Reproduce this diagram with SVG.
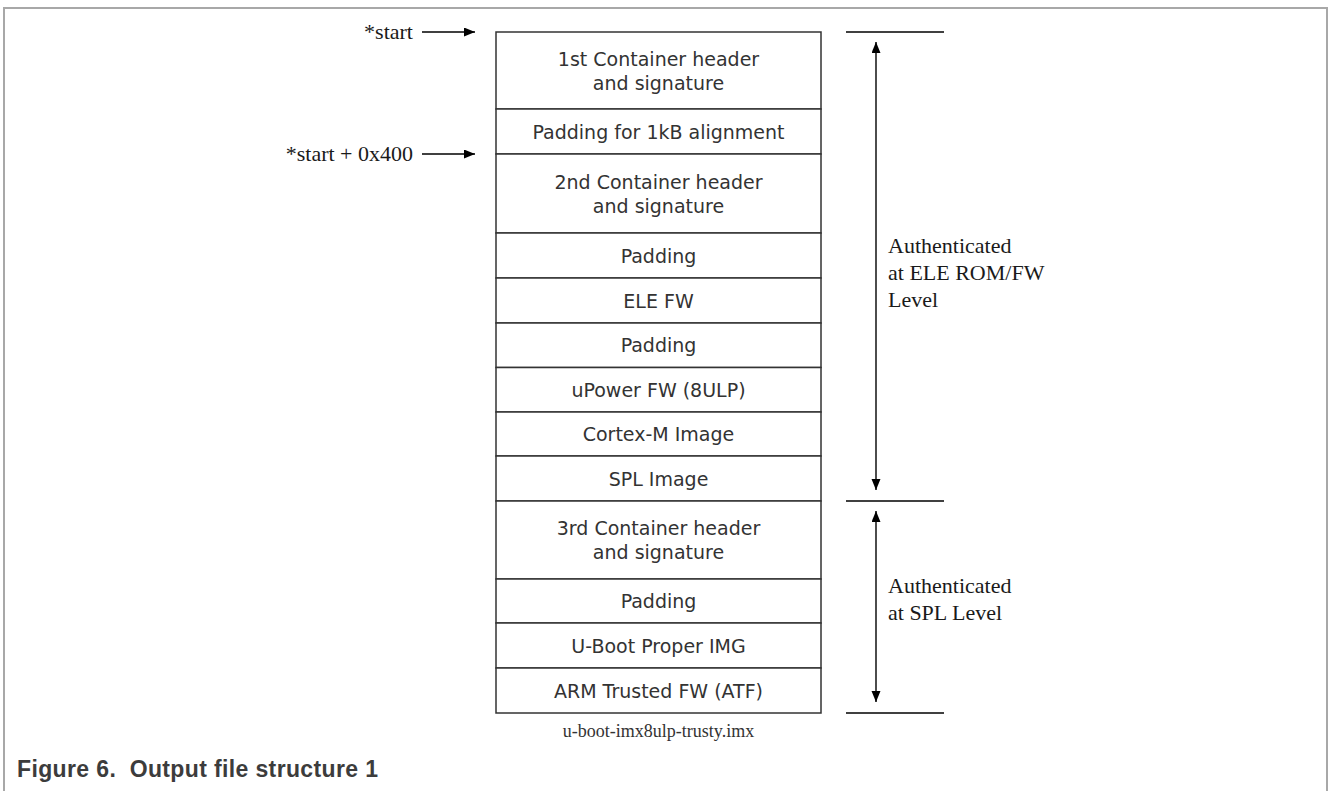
<svg xmlns="http://www.w3.org/2000/svg" width="1328" height="791" viewBox="0 0 1328 791">
<style>
.frame{fill:none;stroke:#a8a8a8;stroke-width:2}
.cell{fill:#fff;stroke:#333;stroke-width:1.5}
.ct{font-family:"DejaVu Sans","Noto Sans",sans-serif;font-size:19px;fill:#333;text-anchor:middle}
.lbl{font-family:"Liberation Serif","Times New Roman",serif;font-size:22px;fill:#1a1a1a}
.cap{font-family:"Liberation Serif","Times New Roman",serif;font-size:18px;fill:#333;text-anchor:middle}
.fig{font-family:"Liberation Sans",Arial,sans-serif;font-size:23px;font-weight:bold;fill:#3c3c3c;white-space:pre}
.arr{stroke:#000;stroke-width:1.4;fill:none}
.tick{stroke:#000;stroke-width:1.4}
</style>
<defs>
<marker id="ah" markerUnits="userSpaceOnUse" markerWidth="12" markerHeight="10" refX="11" refY="4.5" orient="auto-start-reverse">
<path d="M0,0 L11,4.5 L0,9 z" fill="#000"/>
</marker>
</defs>
<rect width="1328" height="791" fill="#fff"/>
<path class="frame" d="M4,791 V8 H1327 V791"/>

<g id="row1"><rect class="cell" x="496" y="32" width="325" height="77"/><text class="ct" x="658.5" y="66">1st Container header</text><text class="ct" x="658.5" y="90">and signature</text></g>
<g id="row2"><rect class="cell" x="496" y="109" width="325" height="45"/><text class="ct" x="658.5" y="138.5">Padding for 1kB alignment</text></g>
<g id="row3"><rect class="cell" x="496" y="154" width="325" height="79"/><text class="ct" x="658.5" y="188.5">2nd Container header</text><text class="ct" x="658.5" y="212.5">and signature</text></g>
<g id="row4"><rect class="cell" x="496" y="233" width="325" height="45"/><text class="ct" x="658.5" y="262.5">Padding</text></g>
<g id="row5"><rect class="cell" x="496" y="278" width="325" height="45"/><text class="ct" x="658.5" y="307.5">ELE FW</text></g>
<g id="row6"><rect class="cell" x="496" y="323" width="325" height="44.5"/><text class="ct" x="658.5" y="352">Padding</text></g>
<g id="row7"><rect class="cell" x="496" y="367.5" width="325" height="44.5"/><text class="ct" x="658.5" y="397">uPower FW (8ULP)</text></g>
<g id="row8"><rect class="cell" x="496" y="412" width="325" height="44"/><text class="ct" x="658.5" y="441">Cortex-M Image</text></g>
<g id="row9"><rect class="cell" x="496" y="456" width="325" height="45"/><text class="ct" x="658.5" y="485.5">SPL Image</text></g>
<g id="row10"><rect class="cell" x="496" y="501" width="325" height="78"/><text class="ct" x="658.5" y="535">3rd Container header</text><text class="ct" x="658.5" y="559">and signature</text></g>
<g id="row11"><rect class="cell" x="496" y="579" width="325" height="44"/><text class="ct" x="658.5" y="608">Padding</text></g>
<g id="row12"><rect class="cell" x="496" y="623" width="325" height="45"/><text class="ct" x="658.5" y="652.5">U-Boot Proper IMG</text></g>
<g id="row13"><rect class="cell" x="496" y="668" width="325" height="45"/><text class="ct" x="658.5" y="697.5">ARM Trusted FW (ATF)</text></g>

<g id="labels">
<text class="lbl" x="413" y="38.5" text-anchor="end">*start</text>
<text class="lbl" x="413" y="160.5" text-anchor="end">*start + 0x400</text>
<text class="lbl" x="888" y="253">Authenticated</text>
<text class="lbl" x="888" y="280">at ELE ROM/FW</text>
<text class="lbl" x="888" y="307">Level</text>
<text class="lbl" x="888" y="593">Authenticated</text>
<text class="lbl" x="888" y="620">at SPL Level</text>
<text class="cap" x="658.5" y="737">u-boot-imx8ulp-trusty.imx</text>
</g>

<g id="connectors">
<line class="arr" x1="422" y1="32" x2="475" y2="32" marker-end="url(#ah)"/>
<line class="arr" x1="422" y1="154" x2="475" y2="154" marker-end="url(#ah)"/>
<line class="tick" x1="846" y1="32" x2="944" y2="32"/>
<line class="tick" x1="846" y1="501" x2="944" y2="501"/>
<line class="tick" x1="846" y1="713" x2="944" y2="713"/>
<line class="arr" x1="876" y1="42" x2="876" y2="490" marker-start="url(#ah)" marker-end="url(#ah)"/>
<line class="arr" x1="876" y1="511" x2="876" y2="702" marker-start="url(#ah)" marker-end="url(#ah)"/>
</g>

<text class="fig" x="17" y="777" xml:space="preserve" textLength="361" lengthAdjust="spacing">Figure 6.  Output file structure 1</text>
</svg>
